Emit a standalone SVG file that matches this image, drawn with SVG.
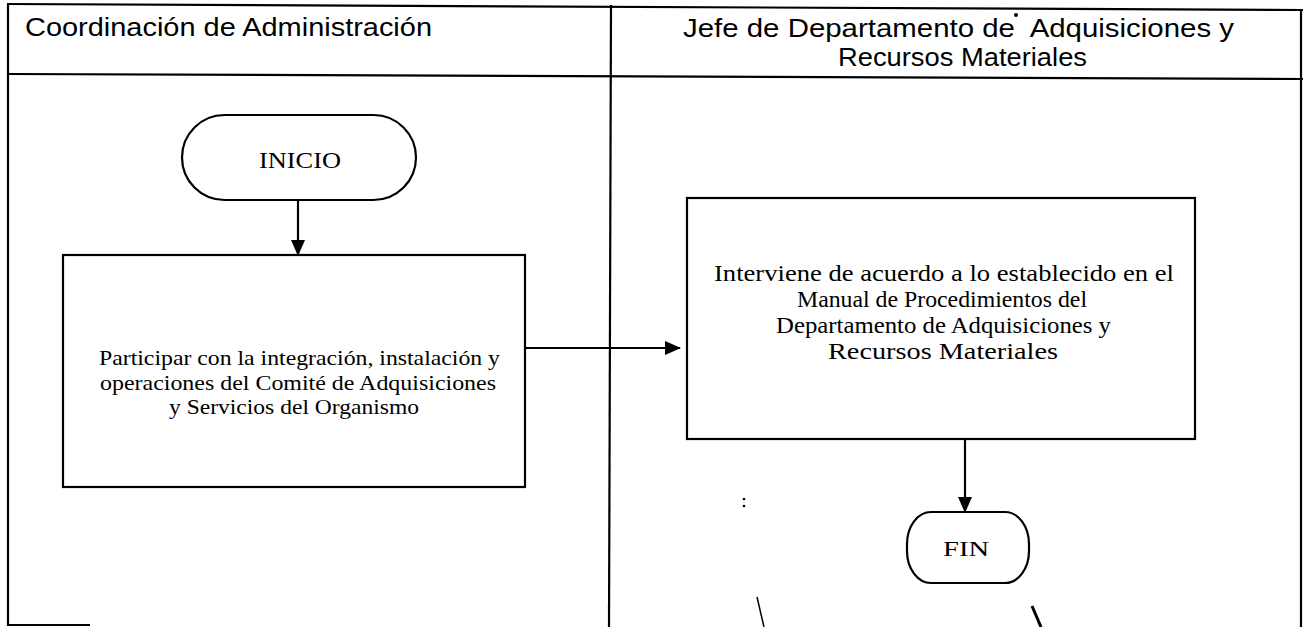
<svg xmlns="http://www.w3.org/2000/svg" width="1303" height="627" viewBox="0 0 1303 627">
<style>
.frame{stroke:#000;stroke-width:2.2;fill:none}
.shape{stroke:#000;stroke-width:2.2;fill:#fff}
.conn{stroke:#000;stroke-width:2.2;fill:none}
.hdr{font-family:"Liberation Sans",Arial,sans-serif;font-size:26px;fill:#000;white-space:pre}
.t1{font-family:"Liberation Serif","Times New Roman",serif;font-size:22px;fill:#000}
.t2{font-family:"Liberation Serif","Times New Roman",serif;font-size:23px;fill:#000}
.mark{stroke:#000;stroke-width:1.5;fill:none}
</style>
<defs>
<marker id="ah" markerWidth="16" markerHeight="14" refX="15" refY="7" orient="auto" markerUnits="userSpaceOnUse">
<path d="M0,0 L16,7 L0,14 Z" fill="#000"/>
</marker>
</defs>
<rect width="1303" height="627" fill="#fff"/>
<g id="frame">
<line class="frame" x1="7" y1="4" x2="1303" y2="10"/>
<line class="frame" x1="7" y1="74" x2="1303" y2="79"/>
<line class="frame" x1="8" y1="4" x2="8" y2="626"/>
<line class="frame" x1="1301" y1="10" x2="1301" y2="627"/>
<line class="frame" x1="611" y1="5" x2="609" y2="627"/>
<line class="frame" x1="8" y1="625" x2="90" y2="625"/>
</g>
<g id="lane1-header">
<text class="hdr" x="25" y="36" textLength="407" lengthAdjust="spacingAndGlyphs">Coordinación de Administración</text>
</g>
<g id="lane2-header">
<text class="hdr" x="683" y="37" textLength="551" lengthAdjust="spacingAndGlyphs">Jefe de Departamento de  Adquisiciones y</text>
<text class="hdr" x="838" y="66" textLength="249" lengthAdjust="spacingAndGlyphs">Recursos Materiales</text>
</g>
<g id="connectors">
<line class="conn" x1="298" y1="200" x2="298" y2="255" marker-end="url(#ah)"/>
<line class="conn" x1="525" y1="348" x2="680" y2="348" marker-end="url(#ah)"/>
<line class="conn" x1="965" y1="439" x2="965" y2="512" marker-end="url(#ah)"/>
</g>
<g id="inicio">
<rect class="shape" x="182" y="115" width="234" height="85" rx="42.5" ry="42.5"/>
<text class="t2" x="300" y="168" text-anchor="middle" font-size="24" textLength="82" lengthAdjust="spacingAndGlyphs">INICIO</text>
</g>
<g id="participar">
<rect class="shape" x="63" y="255" width="462" height="232"/>
<text class="t1" x="99" y="365" textLength="401" lengthAdjust="spacingAndGlyphs">Participar con la integración, instalación y</text>
<text class="t1" x="100" y="390" textLength="396" lengthAdjust="spacingAndGlyphs">operaciones del Comité de Adquisiciones</text>
<text class="t1" x="169" y="414" textLength="250" lengthAdjust="spacingAndGlyphs">y Servicios del Organismo</text>
</g>
<g id="interviene">
<rect class="shape" x="687" y="198" width="508" height="241"/>
<text class="t2" x="714" y="281" textLength="460" lengthAdjust="spacingAndGlyphs">Interviene de acuerdo a lo establecido en el</text>
<text class="t2" x="797" y="307" textLength="290" lengthAdjust="spacingAndGlyphs">Manual de Procedimientos del</text>
<text class="t2" x="776" y="333" textLength="335" lengthAdjust="spacingAndGlyphs">Departamento de Adquisiciones y</text>
<text class="t2" x="828" y="359" textLength="230" lengthAdjust="spacingAndGlyphs">Recursos Materiales</text>
</g>
<g id="fin">
<rect class="shape" x="907" y="512" width="122" height="71" rx="24" ry="32"/>
<text class="t1" x="966" y="556" text-anchor="middle" font-size="20" textLength="46" lengthAdjust="spacingAndGlyphs">FIN</text>
</g>
<g id="scan-marks">
<circle cx="1016" cy="15" r="2" fill="#000"/>
<circle cx="744" cy="499" r="1.3" fill="#000"/>
<circle cx="744" cy="506" r="1.3" fill="#000"/>
<line class="mark" x1="757" y1="597" x2="764" y2="627"/>
<path d="M1032,606 L1041,627" stroke="#000" stroke-width="3" fill="none"/>
</g>
</svg>
